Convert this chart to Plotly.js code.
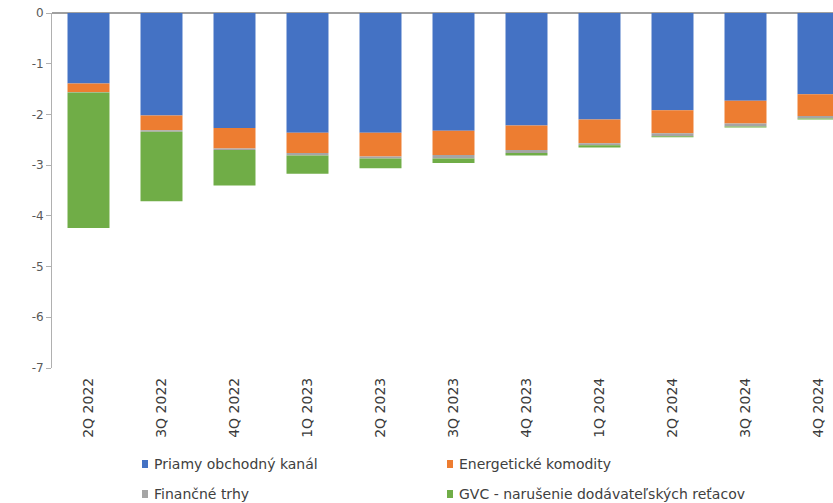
<!DOCTYPE html>
<html>
<head>
<meta charset="utf-8">
<script src="https://cdn.plot.ly/plotly-3.0.1.min.js"></script>
<style>
  html, body { margin: 0; padding: 0; background: #ffffff; overflow: hidden; }
  #chart { width: 833px; height: 503px; }
</style>
</head>
<body>
<div id="chart"></div>
<script>
// Quarterly contributions (p.b.), stacked downwards from zero
const quarters = ['2Q 2022', '3Q 2022', '4Q 2022', '1Q 2023', '2Q 2023', '3Q 2023',
                  '4Q 2023', '1Q 2024', '2Q 2024', '3Q 2024', '4Q 2024'];

const priamyKanal   = [-1.39, -2.02, -2.27, -2.36, -2.36, -2.32, -2.22, -2.10, -1.92, -1.73, -1.60];
const energetika    = [-0.17, -0.29, -0.40, -0.40, -0.47, -0.48, -0.48, -0.47, -0.45, -0.45, -0.43];
const financneTrhy  = [-0.01, -0.03, -0.03, -0.05, -0.04, -0.07, -0.06, -0.04, -0.06, -0.06, -0.05];
const gvcNarusenie  = [-2.67, -1.37, -0.70, -0.36, -0.19, -0.09, -0.05, -0.04, -0.02, -0.02, -0.02];

const seriesNames = ['Priamy obchodný kanál', 'Energetické komodity',
                     'Finančné trhy', 'GVC - narušenie dodávateľských reťacov'];
const seriesColors = ['#4472C4', '#ED7D31', '#A5A5A5', '#70AD47'];

const yTickValues = [0, -1, -2, -3, -4, -5, -6, -7];
const yTickLabels = ['0', '-1', '-2', '-3', '-4', '-5', '-6', '-7'];

const seriesValues = [priamyKanal, energetika, financneTrhy, gvcNarusenie];

const traces = seriesValues.map((vals, i) => ({
  type: 'bar',
  name: seriesNames[i],
  x: quarters,
  y: vals,
  marker: { color: seriesColors[i], line: { width: 0 } },
  hovertemplate: '%{x}: %{y}<extra>' + seriesNames[i] + '</extra>'
}));

// Plot box in pixels
const W = 833, H = 503;
const M = { l: 52, r: 0, t: 13, b: 135 };
const plotW = W - M.l - M.r;
const plotH = H - M.t - M.b;
const catWidth = 73;                       // pixels per category
const xMax = -0.5 + plotW / catWidth;      // last category runs past the right edge

const pxX = px => (px - M.l) / plotW;
const pxY = py => (H - M.b - py) / plotH;

// Two-column legend below the category labels
const legendCols = [142, 447];
const legendRows = [464, 494];
const shapes = [];
const annotations = [];
seriesNames.forEach((name, i) => {
  const col = legendCols[i % 2];
  const row = legendRows[Math.floor(i / 2)];
  shapes.push({
    type: 'rect', xref: 'paper', yref: 'paper',
    x0: pxX(col), x1: pxX(col + 6),
    y0: pxY(row + 4), y1: pxY(row - 4),
    fillcolor: seriesColors[i], line: { width: 0 }
  });
  annotations.push({
    xref: 'paper', yref: 'paper',
    x: pxX(col + 10), y: pxY(row),
    xanchor: 'left', yanchor: 'middle',
    text: name, showarrow: false,
    font: { family: 'DejaVu Sans', size: 14, color: '#404040' }
  });
});

const layout = {
  width: W, height: H,
  margin: M,
  paper_bgcolor: '#ffffff',
  plot_bgcolor: '#ffffff',
  barmode: 'relative',
  bargap: 0.425,
  showlegend: false,
  font: { family: 'DejaVu Sans', color: '#404040' },
  xaxis: {
    type: 'category',
    range: [-0.5, xMax],
    showgrid: false,
    zeroline: false,
    showline: false,
    ticks: '',
    tickangle: -90,
    ticklabelstandoff: 6,
    tickfont: { family: 'DejaVu Sans', size: 14, color: '#3a3a3a' },
    fixedrange: true
  },
  yaxis: {
    range: [-7, 0],
    tickvals: yTickValues,
    ticktext: yTickLabels,
    showgrid: false,
    zeroline: true,
    zerolinecolor: '#A0A0A0',
    zerolinewidth: 2,
    showline: true,
    linecolor: '#B0B0B0',
    linewidth: 1,
    ticks: 'outside',
    ticklen: 5,
    tickwidth: 1,
    tickcolor: '#B0B0B0',
    tickfont: { family: 'DejaVu Sans', size: 12, color: '#595959' },
    fixedrange: true
  },
  shapes: shapes,
  annotations: annotations
};

Plotly.newPlot('chart', traces, layout, { displayModeBar: false, staticPlot: true });
</script>
</body>
</html>
